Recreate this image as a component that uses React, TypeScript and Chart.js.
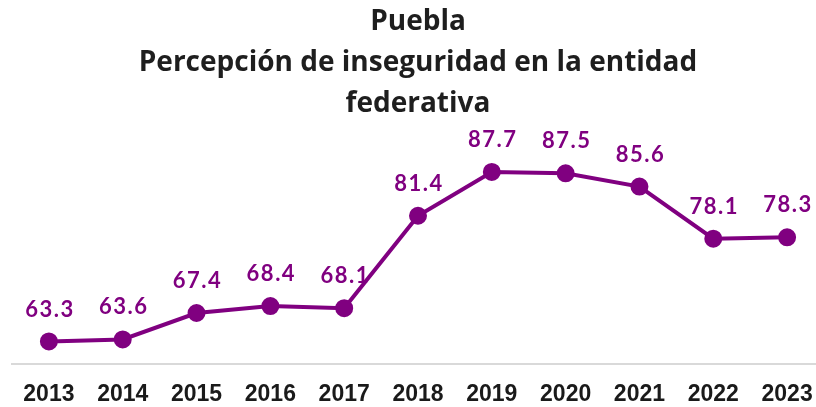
import React, { useEffect, useRef } from "react";
import { Chart, registerables } from "chart.js";

Chart.register(...registerables);

const years = ["2013", "2014", "2015", "2016", "2017", "2018", "2019", "2020", "2021", "2022", "2023"];
const values = [63.3, 63.6, 67.4, 68.4, 68.1, 81.4, 87.7, 87.5, 85.6, 78.1, 78.3];
const titleLines = ["Puebla", "Percepción de inseguridad en la entidad", "federativa"];

const PURPLE = "#800080";

const labelPlugin = {
  id: "pointLabels",
  afterDatasetsDraw(chart: any) {
    const ctx = chart.ctx;
    const meta = chart.getDatasetMeta(0);
    ctx.save();
    ctx.font = "bold 22px Lato";
    try { (ctx as any).letterSpacing = "1.5px"; } catch (e) {}
    ctx.fillStyle = PURPLE;
    ctx.textAlign = "center";
    ctx.textBaseline = "middle";
    meta.data.forEach((el: any, i: number) => {
      ctx.fillText(values[i].toFixed(1), el.x + 1, el.y - 32);
    });
    ctx.restore();
  },
};

export default function App() {
  const ref = useRef<HTMLCanvasElement>(null);
  useEffect(() => {
    if (!ref.current) return;
    const chart = new Chart(ref.current, {
      type: "line",
      data: {
        labels: years,
        datasets: [
          {
            data: values,
            borderColor: PURPLE,
            backgroundColor: PURPLE,
            borderWidth: 4,
            pointRadius: 7,
            pointHoverRadius: 7,
            pointBackgroundColor: PURPLE,
            pointBorderColor: PURPLE,
            tension: 0,
            clip: false as any,
          },
        ],
      },
      options: {
        animation: false,
        responsive: false,
        maintainAspectRatio: false,
        layout: { autoPadding: false, padding: { left: 12, right: 12, top: 0, bottom: 0 } },
        plugins: {
          legend: { display: false },
          tooltip: { enabled: false },
          title: {
            display: true,
            text: titleLines,
            color: "#1e1e1e",
            font: { family: "'Open Sans'", weight: "bold", size: 28, lineHeight: "41px" },
            padding: { top: 2, bottom: 31 },
          },
        },
        scales: {
          x: {
            offset: true,
            grid: { display: false, drawTicks: false },
            border: { display: true, color: "#d9d9d9", width: 2 },
            ticks: {
              color: "#1a1a1a",
              padding: 16,
              font: { family: "'Liberation Sans'", weight: "bold", size: 23 },
              maxRotation: 0,
              autoSkip: false,
            },
          },
          y: {
            display: false,
            min: 60,
            max: 90,
          },
        },
      },
      plugins: [labelPlugin],
    });
    return () => chart.destroy();
  }, []);
  return (
    <div style={{ position: "fixed", left: 0, top: 0, width: 816, height: 407, overflow: "hidden", background: "#fff" }}>
      <canvas ref={ref} width={836} height={424} style={{ width: 836, height: 424, display: "block" }} />
    </div>
  );
}
